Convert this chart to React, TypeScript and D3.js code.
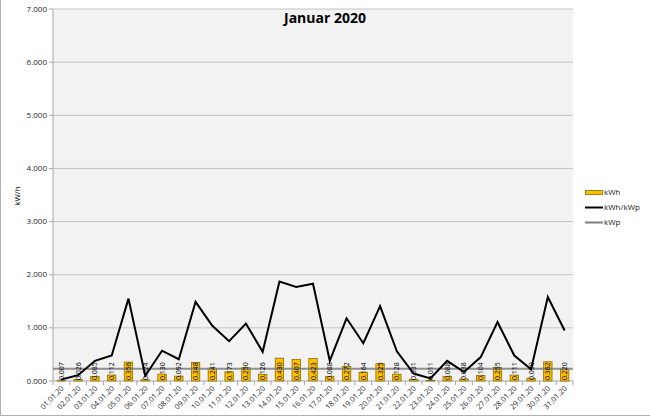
import React from "react";
import * as d3 from "d3";

const categories = ["01.01.20","02.01.20","03.01.20","04.01.20","05.01.20","06.01.20","07.01.20","08.01.20","09.01.20","10.01.20","11.01.20","12.01.20","13.01.20","14.01.20","15.01.20","16.01.20","17.01.20","18.01.20","19.01.20","20.01.20","21.01.20","22.01.20","23.01.20","24.01.20","25.01.20","26.01.20","27.01.20","28.01.20","29.01.20","30.01.20","31.01.20"];
const kwh = [0.007,0.026,0.085,0.112,0.356,0.024,0.130,0.092,0.348,0.241,0.173,0.250,0.126,0.430,0.407,0.423,0.088,0.272,0.164,0.325,0.128,0.031,0.011,0.088,0.038,0.104,0.255,0.111,0.050,0.362,0.220];
const kwhPerKwp = [0.03,0.11,0.38,0.48,1.55,0.10,0.57,0.41,1.49,1.04,0.75,1.08,0.55,1.87,1.77,1.83,0.38,1.18,0.71,1.41,0.56,0.14,0.05,0.38,0.17,0.45,1.11,0.48,0.22,1.58,0.95];
const kwp = 0.23;
const yTicks = [0,1,2,3,4,5,6,7];

const fmt = (v: number) => d3.format(".3f")(v);

export default function App() {
  const W = 650, H = 417;
  const left = 53, right = 573, top = 9, bottom = 381;
  const x = d3.scaleBand<string>().domain(categories).range([left, right]).paddingInner(0.5).paddingOuter(0.25);
  const xb = d3.scaleBand<string>().domain(categories).range([left, right]);
  const y = d3.scaleLinear().domain([0, 7]).range([bottom, top]);
  const line = d3.line<number>().x((_, i) => xb(categories[i])! + xb.bandwidth() / 2).y(d => y(d));
  const font = "'Open Sans', 'Liberation Sans', sans-serif";
  return (
    <svg width={W} height={H} style={{ position: "absolute", left: 0, top: 0, background: "#fff" }} fontFamily={font}>
      <rect x={0} y={0} width={W} height={H} fill="#fff" />
      <line x1={0.5} y1={0} x2={0.5} y2={415.5} stroke="#b0b0b0" />
      <line x1={0} y1={415.5} x2={W} y2={415.5} stroke="#b0b0b0" />
      <rect x={left} y={top} width={right - left} height={bottom - top} fill="#f2f2f2" />
      {yTicks.map(t => (
        <g key={t}>
          {t > 0 && <line x1={left} x2={right} y1={y(t)} y2={y(t)} stroke="#c4c4c4" strokeWidth={1} />}
          <line x1={left - 4} x2={left} y1={y(t)} y2={y(t)} stroke="#a6a6a6" />
          <text x={left - 6} y={y(t)} dy="0.32em" textAnchor="end" fontSize={8} fill="#262626">{d3.format(".3f")(t)}</text>
        </g>
      ))}
      <line x1={left} x2={left} y1={top} y2={bottom} stroke="#a6a6a6" />
      <line x1={left} x2={right} y1={bottom} y2={bottom} stroke="#a6a6a6" />
      {categories.map((c, i) => (
        <line key={"t" + i} x1={xb(c)!} x2={xb(c)!} y1={bottom} y2={bottom + 4} stroke="#a6a6a6" />
      ))}
      <line x1={right} x2={right} y1={bottom} y2={bottom + 4} stroke="#a6a6a6" />
      {categories.map((c, i) => (
        <rect key={"b" + i} x={x(c)!} y={y(kwh[i])} width={x.bandwidth()} height={bottom - y(kwh[i])} fill="#ffc000" stroke="#8a6d00" strokeWidth={0.8} />
      ))}
      <line x1={left} x2={right} y1={y(kwp)} y2={y(kwp)} stroke="#7f7f7f" strokeWidth={2} opacity={0.85} />
      <path d={line(kwhPerKwp)!} fill="none" stroke="#000" strokeWidth={2} />
      {categories.map((c, i) => {
        const cx = xb(c)! + xb.bandwidth() / 2;
        return (
          <text key={"l" + i} transform={`translate(${cx + 2.5},${bottom - 1}) rotate(-90)`} fontSize={7} fill="#000" textAnchor="start">{fmt(kwh[i])}</text>
        );
      })}
      {categories.map((c, i) => {
        const cx = xb(c)! + xb.bandwidth() / 2;
        return (
          <text key={"x" + i} transform={`translate(${cx + 3},${bottom + 8}) rotate(-45)`} fontSize={7.5} fill="#262626" textAnchor="end">{c}</text>
        );
      })}
      <text x={325} y={23} textAnchor="middle" fontSize={14} fontWeight="bold" fill="#000">Januar 2020</text>
      <text transform={`translate(20,196) rotate(-90)`} textAnchor="middle" fontSize={8} fill="#000">kW/h</text>
      <rect x={585.5} y={190.5} width={17} height={4} fill="#ffc000" stroke="#8a6d00" strokeWidth={0.8} />
      <text x={604} y={192.5} dy="0.32em" fontSize={8} fill="#1a1a1a">kWh</text>
      <line x1={585} x2={603} y1={207.5} y2={207.5} stroke="#000" strokeWidth={2} />
      <text x={604} y={207.5} dy="0.32em" fontSize={8} fill="#1a1a1a">kWh/kWp</text>
      <line x1={585} x2={603} y1={222.5} y2={222.5} stroke="#7f7f7f" strokeWidth={2} />
      <text x={604} y={222.5} dy="0.32em" fontSize={8} fill="#1a1a1a">kWp</text>
    </svg>
  );
}
